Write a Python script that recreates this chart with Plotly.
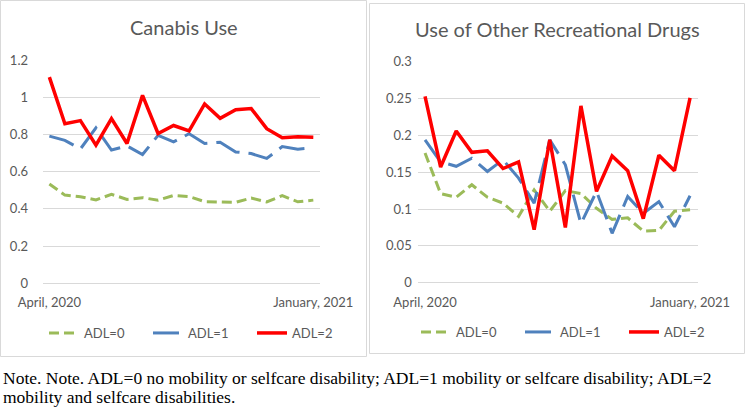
import plotly.graph_objects as go

# ---- data ----
periods = list(range(18))
tick_positions = [0, 17]
tick_labels = ["April, 2020", "January, 2021"]
series_names = ["ADL=0", "ADL=1", "ADL=2"]

cannabis_adl0 = [0.534, 0.474, 0.465, 0.448, 0.478, 0.451, 0.460, 0.447, 0.472, 0.466, 0.439, 0.439, 0.435, 0.458, 0.437, 0.471, 0.438, 0.447]
cannabis_adl1 = [0.791, 0.768, 0.722, 0.835, 0.716, 0.738, 0.692, 0.795, 0.760, 0.804, 0.751, 0.758, 0.706, 0.697, 0.671, 0.735, 0.721, 0.728]
cannabis_adl2 = [1.108, 0.857, 0.874, 0.742, 0.885, 0.751, 1.010, 0.805, 0.848, 0.819, 0.964, 0.887, 0.933, 0.939, 0.831, 0.782, 0.788, 0.785]

drugs_adl0 = [0.176, 0.121, 0.116, 0.133, 0.116, 0.108, 0.090, 0.126, 0.097, 0.125, 0.121, 0.101, 0.086, 0.088, 0.070, 0.071, 0.097, 0.099]
drugs_adl1 = [0.194, 0.164, 0.158, 0.169, 0.151, 0.167, 0.142, 0.108, 0.194, 0.160, 0.080, 0.124, 0.067, 0.117, 0.094, 0.110, 0.076, 0.118]
drugs_adl2 = [0.253, 0.157, 0.206, 0.177, 0.179, 0.155, 0.164, 0.072, 0.194, 0.075, 0.240, 0.124, 0.172, 0.152, 0.087, 0.173, 0.152, 0.251]

cannabis_title = "Canabis Use"
drugs_title = "Use of Other Recreational Drugs"
note_line1 = "Note. Note. ADL=0 no mobility or selfcare disability; ADL=1 mobility or selfcare disability; ADL=2"
note_line2 = "mobility and selfcare disabilities."

# ---- styles ----
W, H = 746, 413
colors = ["#9BBB59", "#4F81BD", "#FF0000"]
dashes = ["10px,5px", "26px,9px", "solid"]
widths = [3, 3, 3.5]
grid = "#D9D9D9"
txt = "#595959"
FONT = "Lato"

def px(x):
    return x / W

def py(y):
    return 1 - y / H

fig = go.Figure()

for i, vals in enumerate([cannabis_adl0, cannabis_adl1, cannabis_adl2]):
    fig.add_trace(go.Scatter(x=periods, y=vals, mode="lines", name=series_names[i],
                             line=dict(color=colors[i], dash=dashes[i], width=widths[i]),
                             xaxis="x", yaxis="y", legend="legend"))
for i, vals in enumerate([drugs_adl0, drugs_adl1, drugs_adl2]):
    fig.add_trace(go.Scatter(x=periods, y=vals, mode="lines", name=series_names[i],
                             line=dict(color=colors[i], dash=dashes[i], width=widths[i]),
                             xaxis="x2", yaxis="y2", legend="legend2"))

xcommon = dict(tickvals=tick_positions, ticktext=tick_labels, showgrid=False, zeroline=False,
               showline=False, ticks="", tickfont=dict(family=FONT, size=13, color=txt),
               ticklabelstandoff=10, fixedrange=True, automargin=False)
ycommon = dict(showgrid=True, gridcolor=grid, gridwidth=1, zeroline=True, zerolinecolor=grid,
               zerolinewidth=1, showline=False, ticks="", automargin=False,
               tickfont=dict(family=FONT, size=13, color=txt), fixedrange=True)

legcommon = dict(orientation="h", font=dict(family=FONT, size=13, color=txt),
                 entrywidth=59, entrywidthmode="pixels", bgcolor="rgba(0,0,0,0)",
                 yanchor="middle", xanchor="left", traceorder="normal")

fig.update_layout(
    width=W, height=H, autosize=False,
    margin=dict(l=0, r=0, t=0, b=0, autoexpand=False),
    paper_bgcolor="white", plot_bgcolor="white",
    xaxis=dict(domain=[px(43), px(320)], range=[-0.41, 17.43], anchor="y", **xcommon),
    yaxis=dict(domain=[py(283.3), py(60)], range=[0, 1.2], dtick=0.2, anchor="x",
               ticklabelstandoff=14, **ycommon),
    xaxis2=dict(domain=[px(417.7), px(697.7)], range=[-0.47, 17.49], anchor="y2", **xcommon),
    yaxis2=dict(domain=[py(282.7), py(61.7)], range=[0, 0.3], dtick=0.05, anchor="x2",
                ticklabelstandoff=5, **ycommon),
    legend=dict(x=px(44), y=py(333), **legcommon),
    legend2=dict(x=px(416), y=py(332), **legcommon),
    showlegend=True,
    hovermode=False,
    shapes=[
        dict(type="rect", xref="paper", yref="paper", x0=px(0.5), x1=px(366.5),
             y0=py(356.5), y1=py(0.5), line=dict(color=grid, width=1), layer="below"),
        dict(type="rect", xref="paper", yref="paper", x0=px(369.5), x1=px(744.5),
             y0=py(353.5), y1=py(3.5), line=dict(color=grid, width=1), layer="below"),
    ],
    annotations=[
        dict(text=cannabis_title, xref="paper", yref="paper", x=px(184), y=py(27),
             xanchor="center", yanchor="middle", showarrow=False,
             font=dict(family=FONT, size=20, color=txt)),
        dict(text=drugs_title, xref="paper", yref="paper", x=px(557), y=py(29),
             xanchor="center", yanchor="middle", showarrow=False,
             font=dict(family=FONT, size=20, color=txt)),
        dict(text=note_line1, xref="paper", yref="paper", x=px(1), y=py(378),
             xanchor="left", yanchor="middle", showarrow=False,
             font=dict(family="Liberation Serif", size=17.5, color="black")),
        dict(text=note_line2, xref="paper", yref="paper", x=px(1), y=py(397),
             xanchor="left", yanchor="middle", showarrow=False,
             font=dict(family="Liberation Serif", size=17.5, color="black")),
    ],
)

fig.write_html("out.html", config={"displayModeBar": False},
               post_script="document.body.style.margin='0px';")
